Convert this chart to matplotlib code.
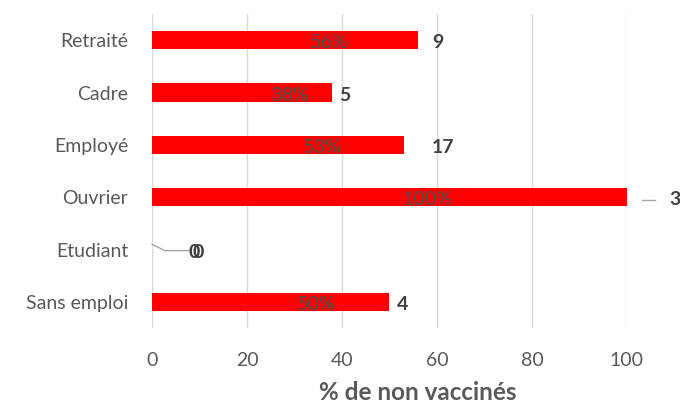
import matplotlib.pyplot as plt

# data
categories = ['Sans emploi', 'Etudiant', 'Ouvrier', 'Employé', 'Cadre', 'Retraité']
pct_non_vacc = [50, 0, 100, 53, 38, 56]
counts = [4, 0, 3, 17, 5, 9]

plt.rcParams['font.family'] = ['Lato', 'DejaVu Sans']

fig = plt.figure(figsize=(6.8, 4.03), dpi=100)
ax = fig.add_axes([0.2235, 0.186, 0.6985, 0.779])

y = range(len(categories))
ax.barh(y, pct_non_vacc, height=0.35, color='#FF0000', zorder=3)

ax.set_xlim(0, 100)
ax.set_ylim(-0.5, len(categories) - 0.5)
ax.set_xticks([0, 20, 40, 60, 80, 100])
ax.set_yticks(list(y))
ax.set_yticklabels(categories)
ax.tick_params(axis='both', length=0, labelsize=14, labelcolor='#595959')
ax.tick_params(axis='y', pad=17)
ax.tick_params(axis='x', pad=17)
ax.xaxis.grid(True, color='#D9D9D9', linewidth=1, zorder=0)
for s in ax.spines.values():
    s.set_visible(False)

ax.set_xlabel('% de non vaccinés', fontsize=17.5, fontweight='bold', color='#595959')
ax.xaxis.set_label_coords(0.56, -0.17)

# percent labels inside bars (Excel placed them a bit left of center)
for i, v in enumerate(pct_non_vacc):
    if v == 0:
        continue
    ax.text(11 + 0.47 * v, i - 0.05, f'{v}%', ha='center', va='center',
            fontsize=14, color='#4D4D4D', zorder=4)

# count labels, manually placed offsets (in data units)
offsets = [1.5, 8.5, 9, 6, 1.5, 3]
for i, (v, c) in enumerate(zip(pct_non_vacc, counts)):
    ax.text(v + offsets[i], i - 0.05, str(c), ha='left', va='center',
            fontsize=14, fontweight='bold', color='#404040', clip_on=False, zorder=4)

# leader lines
ax.plot([103.2, 105.8], [2 - 0.05, 2 - 0.05], color='#A6A6A6', lw=1, clip_on=False)
ax.plot([0, 2.7, 7.7], [1 + 0.1, 1 - 0.02, 1 - 0.02], color='#A6A6A6', lw=1, clip_on=False, zorder=4)
ax.text(7.6, 1 - 0.05, '0', ha='left', va='center', fontsize=14, fontweight='bold',
        color='#404040', zorder=4)

fig.savefig('out.png', dpi=100)
